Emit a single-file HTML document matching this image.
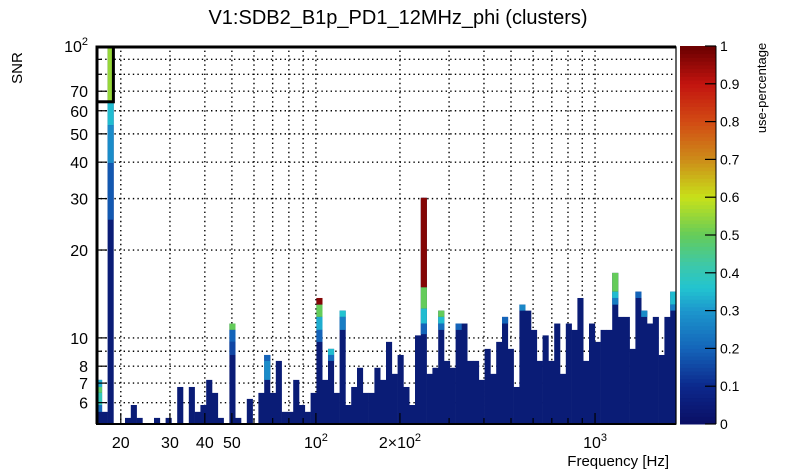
<!DOCTYPE html>
<html><head><meta charset="utf-8"><style>
html,body{margin:0;padding:0;background:#fff;}
svg{display:block;font-family:"Liberation Sans",sans-serif;}
</style></head><body>
<svg id="chart" width="805" height="472" viewBox="0 0 805 472" xmlns="http://www.w3.org/2000/svg">
<rect width="805" height="472" fill="#fff"/>
<text x="398" y="24" font-size="20" text-anchor="middle">V1:SDB2_B1p_PD1_12MHz_phi (clusters)</text>
<text transform="translate(22,68) rotate(-90)" font-size="15" text-anchor="middle">SNR</text>
<text x="669" y="466" font-size="15" text-anchor="end">Frequency [Hz]</text>
<text transform="translate(766,88) rotate(-90)" font-size="13" text-anchor="middle">use-percentage</text>
<g id="grid"></g><g id="bars"></g><g id="axes"></g><g id="cbar"></g>
</svg>
<script>
const binTops=[7.18,5.58,100,0,0,5.32,5.89,5.32,0,0,5.32,0,5.32,0,6.79,0,6.79,5.58,5.89,7.18,
6.48,5.32,0,11.2,5.32,0,6.18,0,6.48,8.74,6.48,8.34,5.58,5.58,7.18,5.89,5.58,6.48,13.7,7.18,
9.17,6.48,12.4,5.89,6.79,7.9,6.48,6.48,7.9,7.18,9.69,7.53,8.74,6.79,5.89,10.2,30.2,7.53,7.9,12.4,
8.34,7.9,11.2,11.2,8.34,8.34,7.18,9.17,7.53,9.69,11.8,9.17,6.79,13.0,12.4,10.65,8.34,10.2,8.34,11.2,
7.53,11.2,10.65,13.7,8.34,11.2,9.69,10.65,10.65,16.7,11.8,11.8,9.17,14.4,12.4,11.2,11.8,8.74,11.8,14.4];
const segBins=[0,0,0,0,2,2,2,2,23,23,23,29,29,38,38,38,38,40,40,42,42,56,56,56,56,59,59,59,62,70,73,89,89,89,93,94,99,99];
const segLow=[6.79,6.48,5.89,5.58,64.4,53.6,39.7,25.4,10.65,9.69,8.74,8.34,7.18,13.0,11.8,10.65,9.69,8.74,8.34,11.8,10.65,14.9,12.6,11.2,10.3,11.8,11.2,10.65,10.65,11.2,12.4,14.4,13.7,13.0,13.7,11.8,13.0,12.4];
const segHigh=[7.18,6.79,6.48,5.89,100,64.4,53.6,39.7,11.2,10.65,9.69,8.74,8.34,13.7,13.0,11.8,10.65,9.17,8.74,12.4,11.8,30.2,14.9,12.6,11.2,12.4,11.8,11.2,11.2,11.8,13.0,16.7,14.4,13.7,14.4,12.4,14.4,13.0];
const segUse=[0.33,0.48,0.4,0.22,0.55,0.35,0.28,0.18,0.5,0.2,0.15,0.2,0.28,0.97,0.5,0.33,0.2,0.35,0.22,0.36,0.25,0.97,0.5,0.35,0.2,0.5,0.35,0.22,0.2,0.2,0.27,0.5,0.35,0.25,0.2,0.28,0.35,0.25];
const yGrid=[6,7,8,9,10,20,30,40,50,60,70,80,90];
const yLabels=["6","7","8","","10","20","30","40","50","60","70","",""];
const xGrid=[20,30,40,50,60,70,80,90,100,200,300,400,500,600,700,800,900,1000];
const xLabelVals=[20,30,40,50,100,200,1000];
const xLabelBase=["20","30","40","50","10","2×10","10"];
const xLabelExp=["","","","","2","2","3"];
const cbTicks=[0,0.1,0.2,0.3,0.4,0.5,0.6,0.7,0.8,0.9,1];

const XL=96,XR=676,YT=46,YB=424,FMIN=16.3,FMAX=1950,SMIN=5.07,SMAX=100;
const fx=f=>XL+(XR-XL)*Math.log10(f/FMIN)/Math.log10(FMAX/FMIN);
const fy=s=>YB-(YB-YT)*Math.log10(s/SMIN)/Math.log10(SMAX/SMIN);
const NB=binTops.length;
const edge=i=>FMIN*Math.pow(FMAX/FMIN,i/NB);
const stops=[[0,[10,14,100]],[0.1,[12,40,140]],[0.2,[20,100,185]],[0.3,[28,150,205]],[0.36,[34,196,208]],[0.42,[60,200,170]],[0.5,[100,204,90]],[0.6,[200,225,25]],[0.7,[205,140,25]],[0.8,[210,75,20]],[0.9,[195,20,15]],[1,[105,0,0]]];
function col(u){for(let i=1;i<stops.length;i++){if(u<=stops[i][0]){const a=stops[i-1],b=stops[i],t=(u-a[0])/(b[0]-a[0]);const c=a[1].map((v,k)=>Math.round(v+(b[1][k]-v)*t));return `rgb(${c})`;}}return 'rgb(105,0,0)';}
const NS='http://www.w3.org/2000/svg';
function mk(p,tag,at){const e=document.createElementNS(NS,tag);for(const k in at)e.setAttribute(k,at[k]);p.appendChild(e);return e;}
function supText(p,x,y,base,exp,anchor){const t=mk(p,'text',{x:x,y:y,'font-size':16,'text-anchor':anchor});
const a=mk(t,'tspan',{});a.textContent=base;
if(exp){const b=mk(t,'tspan',{dy:-7,'font-size':11});b.textContent=exp;}
return t;}
const grid=document.getElementById('grid'),bars=document.getElementById('bars'),axes=document.getElementById('axes'),cb=document.getElementById('cbar');
binTops.forEach((t,i)=>{if(!t)return;const x0=fx(edge(i)),x1=fx(edge(i+1));
const r=mk(bars,'rect',{x:x0,y:fy(Math.min(t,SMAX)),width:x1-x0+0.3,height:YB-fy(Math.min(t,SMAX)),fill:'#0a1c76'});

});
segBins.forEach((b,j)=>{const x0=fx(edge(b)),x1=fx(edge(b+1));
const r=mk(bars,'rect',{x:x0,y:fy(segHigh[j]),width:x1-x0+0.3,height:fy(segLow[j])-fy(segHigh[j]),fill:col(segUse[j])});

});
yGrid.forEach((v,i)=>{const y=fy(v);
const l=mk(grid,'line',{x1:XL,x2:XR,y1:y,y2:y,stroke:'#000','stroke-width':1.4,'stroke-dasharray':'1.4 3.2'});


const tk=mk(axes,'line',{x1:XL,x2:XL+(yLabels[i]?11:6),y1:y,y2:y,stroke:'#000','stroke-width':1.2});


if(yLabels[i]){const t=supText(axes,88,y+6,yLabels[i],'','end');

}});
const t100=supText(axes,88,fy(100)+6,'10','2','end');


xGrid.forEach(v=>{const x=fx(v);
const l=mk(grid,'line',{x1:x,x2:x,y1:YT,y2:YB,stroke:'#000','stroke-width':1.4,'stroke-dasharray':'1.4 3.2'});


const big=[20,30,40,50,100,200,1000].includes(v);
const tk=mk(axes,'line',{x1:x,x2:x,y1:YB,y2:YB-(big?11:6),stroke:'#000','stroke-width':1.2});

});
xLabelVals.forEach((v,i)=>{const t=supText(axes,fx(v),448,xLabelBase[i],xLabelExp[i],'middle');

});
const fr=mk(axes,'path',{d:`M${XL+1},${YB} V${YT+1} H${XR} V${YB} Z`,fill:'none',stroke:'#000','stroke-width':1.2});


const th=mk(axes,'path',{d:`M${XL+1},${YB} V${YT+1} H${XR}`,fill:'none',stroke:'#000','stroke-width':3});


const bx=mk(axes,'rect',{x:XL+1,y:YT+1,width:fx(edge(3))-XL-1,height:fy(64.4)-YT-1,fill:'none',stroke:'#000','stroke-width':3});


const bl=mk(axes,'line',{x1:XL,x2:XR,y1:YB,y2:YB,stroke:'#000','stroke-width':2});


const CX=680,CW=36;
for(let k=0;k<100;k++){const u0=k/100,u1=(k+1)/100;const y1=YB-(YB-YT)*u0,y0=YB-(YB-YT)*u1;
const r=mk(cb,'rect',{x:CX,y:y0,width:CW,height:y1-y0+0.5,fill:col((u0+u1)/2)});

}
cbTicks.forEach(u=>{const y=YB-(YB-YT)*u;
const tk=mk(cb,'line',{x1:CX+CW,x2:CX+CW-11,y1:y,y2:y,stroke:'#000','stroke-width':1.2});


const t=mk(cb,'text',{x:720,y:y+5,'font-size':14});t.textContent=String(u);

});
const ax=mk(cb,'line',{x1:CX+CW,x2:CX+CW,y1:YT,y2:YB,stroke:'#000','stroke-width':1});


</script>
</body></html>
